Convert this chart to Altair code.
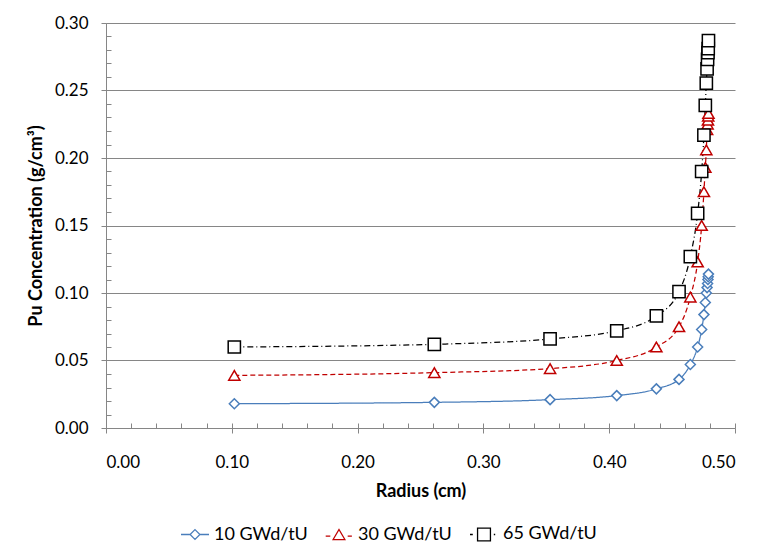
import altair as alt
import pandas as pd

# ---- data ----
radius = [0.102, 0.261, 0.353, 0.406, 0.4375, 0.4555, 0.4645, 0.4703, 0.4735,
          0.4753, 0.4764, 0.4772, 0.4778, 0.4782, 0.4785, 0.4787, 0.4789]
pu_10 = [0.018, 0.019, 0.021, 0.024, 0.029, 0.036, 0.047, 0.060, 0.073,
         0.084, 0.093, 0.100, 0.104, 0.107, 0.110, 0.112, 0.114]
pu_30 = [0.039, 0.041, 0.044, 0.050, 0.060, 0.075, 0.097, 0.123, 0.150,
         0.175, 0.193, 0.206, 0.221, 0.225, 0.228, 0.231, 0.233]
pu_65 = [0.060, 0.062, 0.066, 0.072, 0.083, 0.101, 0.127, 0.159, 0.190,
         0.217, 0.239, 0.2555, 0.266, 0.273, 0.278, 0.281, 0.287]
series_names = ["10 GWd/tU", "30 GWd/tU", "65 GWd/tU"]

x_ticks = [0.0, 0.1, 0.2, 0.3, 0.4, 0.5]
y_ticks = [0.0, 0.05, 0.10, 0.15, 0.20, 0.25, 0.30]
x_minor = [round(i * 0.02, 2) for i in range(26)]
y_minor = [round(i * 0.01, 2) for i in range(31)]

colors = ["#4A7EBB", "#C00000", "#000000"]
dashes = [[1, 0], [5, 3], [6, 3, 1, 3]]
shapes = ["diamond", "triangle-up", "square"]
sizes = [100, 150, 144]
legend_paths = [
    "M-1,0L-0.35,0M0.35,0L1,0M0,-0.35L0.35,0L0,0.35L-0.35,0Z",
    "M-0.95,0.12L-0.62,0.12M0.62,0.12L0.92,0.12M0,-0.36L0.42,0.36L-0.42,0.36Z",
    "M-1,0L-0.8,0M-0.46,-0.46L0.46,-0.46L0.46,0.46L-0.46,0.46ZM0.7,0L0.8,0",
]

rows = []
for name, vals in zip(series_names, [pu_10, pu_30, pu_65]):
    for r, c in zip(radius, vals):
        rows.append({"r": r, "c": c, "series": name})
df = pd.DataFrame(rows)

GRID = "#868686"
FONT = "Lato"

xs = alt.Scale(domain=[0, 0.5], nice=False, zero=False)
ys = alt.Scale(domain=[0, 0.3], nice=False)

common = dict(labelFont=FONT, labelFontSize=17, labelColor="black",
              titleFont=FONT, titleFontSize=18, titleFontWeight="bold",
              titleColor="black", tickColor=GRID, domainColor=GRID,
              tickSize=5, tickWidth=1, domainWidth=1)

x_axis = alt.Axis(values=x_ticks, format=".2f", title="Radius (cm)", grid=False,
                  labelPadding=21, titlePadding=12, orient="bottom", **common)
y_axis = alt.Axis(values=y_ticks, format=".2f", title="Pu Concentration (g/cm³)",
                  grid=True, gridColor=GRID, gridWidth=1, labelPadding=13,
                  titlePadding=9, orient="left", **common)

color_enc = alt.Color("series:N", scale=alt.Scale(domain=series_names, range=colors), legend=None)

lines = alt.Chart(df).mark_line(interpolate="monotone", strokeWidth=1.25).encode(
    x=alt.X("r:Q", scale=xs, axis=x_axis),
    y=alt.Y("c:Q", scale=ys, axis=y_axis),
    color=color_enc,
    strokeDash=alt.StrokeDash("series:N", scale=alt.Scale(domain=series_names, range=dashes), legend=None),
)

points = alt.Chart(df).mark_point(filled=False, fill="white", opacity=1, strokeWidth=1.5).encode(
    x=alt.X("r:Q", scale=xs),
    y=alt.Y("c:Q", scale=ys),
    color=color_enc,
    shape=alt.Shape("series:N", scale=alt.Scale(domain=series_names, range=shapes), legend=None),
    size=alt.Size("series:O", scale=alt.Scale(domain=series_names, range=sizes), legend=None),
)

leg = dict(title=None, orient="none", legendX=74, legendY=496, direction="horizontal",
           symbolSize=784, symbolStrokeWidth=1.3, labelFont=FONT, labelFontSize=18,
           labelColor="black", columnPadding=15, labelOffset=4, padding=0)

minor_x_axis = alt.Axis(values=x_minor, orient="bottom", offset=-5, tickSize=5, labels=False,
                        domain=False, grid=False, title=None, tickColor=GRID, tickWidth=1)
minor_y_axis = alt.Axis(values=y_minor, orient="left", offset=-5, tickSize=5, labels=False,
                        domain=False, grid=False, title=None, tickColor=GRID, tickWidth=1)

legend_layer = alt.Chart(df).transform_filter("datum.r < 0").mark_point(
    filled=False, opacity=1, strokeWidth=1.3
).encode(
    x=alt.X("r:Q", scale=xs, axis=minor_x_axis),
    y=alt.Y("c:Q", scale=ys, axis=minor_y_axis),
    stroke=alt.Stroke("series:N", scale=alt.Scale(domain=series_names, range=colors), legend=alt.Legend(**leg)),
    shape=alt.Shape("series:N", scale=alt.Scale(domain=series_names, range=legend_paths), legend=alt.Legend(**leg)),
)

chart = alt.layer(alt.layer(lines, points), legend_layer).resolve_scale(
    x="independent", y="independent", shape="independent", stroke="independent"
).properties(
    width=629, height=405,
    autosize=alt.AutoSizeParams(type="none"),
    padding={"left": 106, "top": 23, "right": 22, "bottom": 127},
    background="white",
).configure_view(stroke=None)

chart.save("out.html", embed_options={"renderer": "svg", "actions": False})
